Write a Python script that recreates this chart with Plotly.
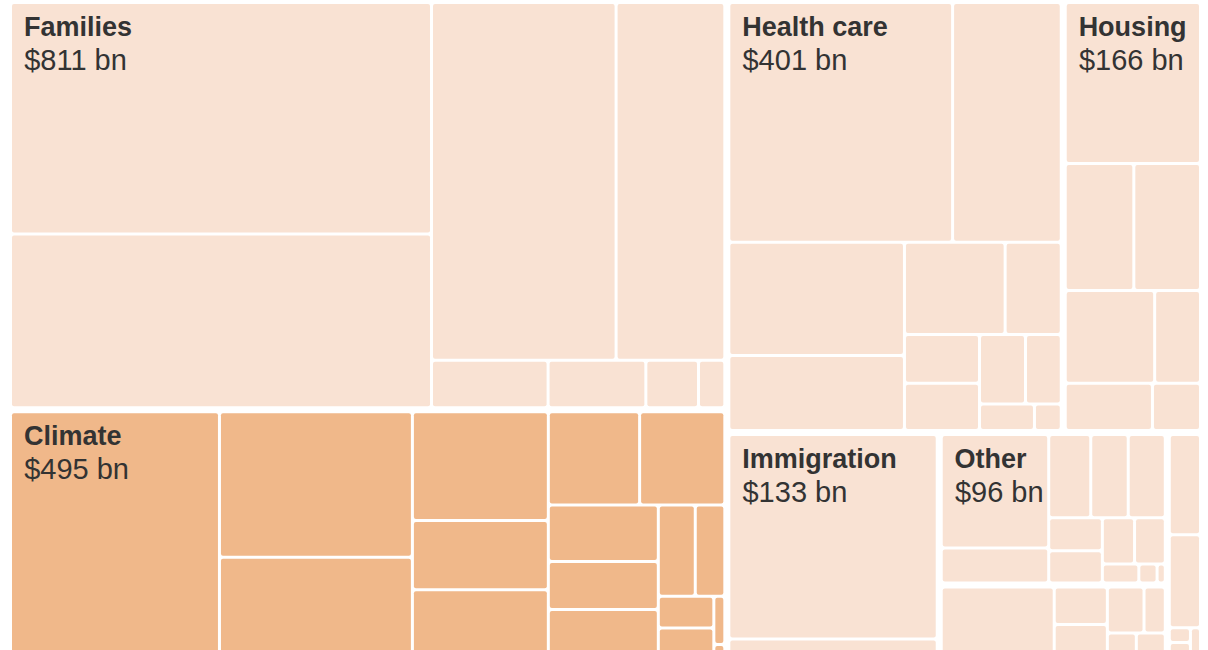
import plotly.graph_objects as go

# Top-level spending categories (in $ billions) and the programs inside each one
categories = ["Families", "Climate", "Health care", "Housing", "Immigration", "Other", "Education", "Workforce"]
show_label = [True, True, True, True, True, True, False, False]

families_items = [273, 205, 185, 109, 15.5, 13, 7, 3.5]
climate_items = [144.8, 79.2, 54.5, 41.7, 26.5, 26.0, 24.0, 22.4, 17.5, 14.9, 14.9, 9.5, 7.6, 5.0, 4.6, 1.5, 0.4]
health_items = [151.2, 73.4, 56.0, 37.2, 26.2, 14.6, 10.3, 10.0, 9.0, 7.0, 4.1, 2.0]
housing_items = [62.4, 25.0, 24.3, 23.8, 12.2, 11.8, 6.5]
immigration_items = [122, 11]
other_items = [35.15, 10.9, 10.1, 9.0, 8.9, 5.1, 5.0, 4.3, 4.1, 2.0, 1.0, 0.45]
education_items = [23.6, 5.9, 5.2, 5.0, 2.9, 2.1, 2.1]
workforce_items = [9.9, 9.2, 1.0, 1.0, 0.95]

category_items = [families_items, climate_items, health_items, housing_items,
                  immigration_items, other_items, education_items, workforce_items]

light = "#F9E2D3"
dark = "#F0B88A"
category_colors = [light, dark, light, light, light, light, light, light]

indent1 = '<span style="font-size:32px">&nbsp;</span>'
indent2 = '<span style="font-size:11px">&nbsp;&nbsp;&nbsp;</span>'

ids, labels, parents, values, colors, texts, text_colors = [], [], [], [], [], [], []
for cat, items, col, lab in zip(categories, category_items, category_colors, show_label):
    total = sum(items)
    ids.append(cat)
    labels.append(cat)
    parents.append("")
    values.append(0)
    colors.append("white")
    texts.append("")
    text_colors.append("rgba(0,0,0,0)")
    for i, v in enumerate(items):
        ids.append(f"{cat}-{i + 1}")
        labels.append(f"{cat} program {i + 1}")
        parents.append(cat)
        values.append(v)
        colors.append(col)
        text_colors.append("#333333")
        if i == 0 and lab:
            texts.append(
                f'{indent1}<span style="font-size:27px"><b>{cat}</b></span><br>'
                f'{indent2}<span style="font-size:29px">${total:.0f} bn</span>'
            )
        else:
            texts.append("")

fig = go.Figure(go.Treemap(
    ids=ids, labels=labels, parents=parents, values=values,
    branchvalues="remainder",
    text=texts, texttemplate="%{text}", textposition="top left",
    textfont=dict(family="Liberation Sans, Arial, sans-serif", size=26, color=text_colors),
    marker=dict(colors=colors, line=dict(color="white", width=0),
                pad=dict(t=2, l=2, r=2, b=2), cornerradius=12, depthfade=False),
    tiling=dict(packing="squarify", squarifyratio=1.618034, pad=3),
    pathbar=dict(visible=False),
    root=dict(color="white"),
    sort=True,
    hoverinfo="skip",
))

fig.update_layout(
    width=1208, height=660,
    margin=dict(l=8, r=5, t=0, b=0),
    paper_bgcolor="white",
)

fig.write_html("out.html", config={"displayModeBar": False},
               post_script="document.body.style.margin='0';")
